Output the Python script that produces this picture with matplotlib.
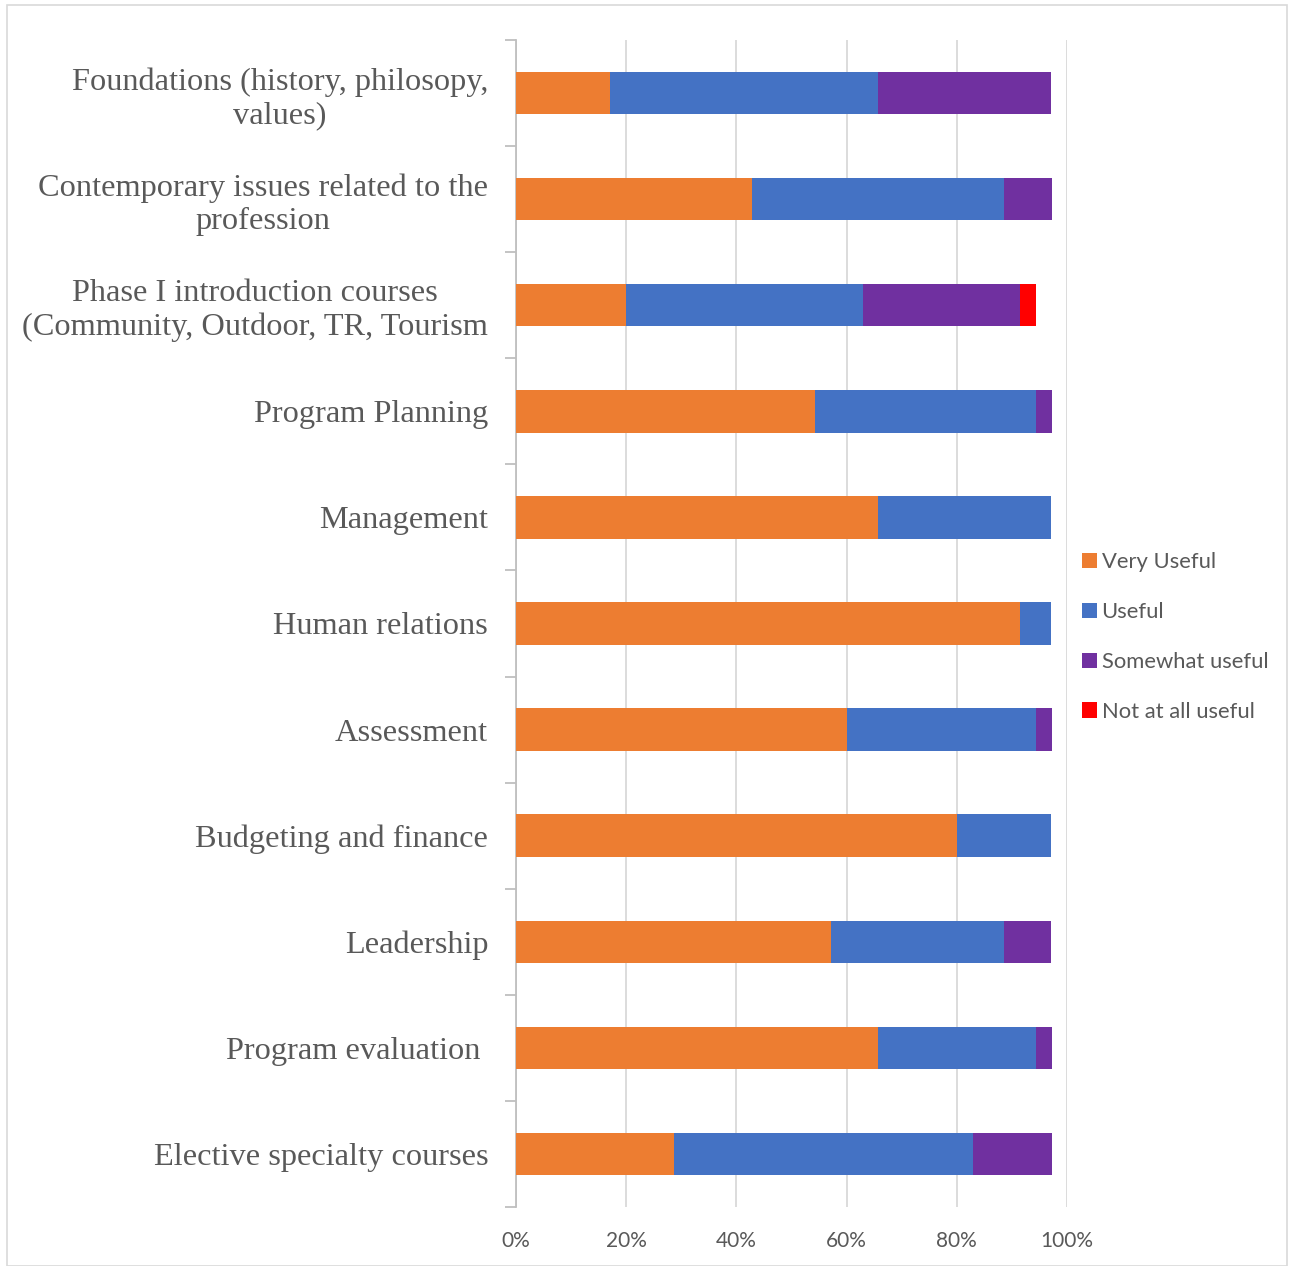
import matplotlib
matplotlib.use("Agg")
import matplotlib.pyplot as plt
from matplotlib.patches import Rectangle
import numpy as np

# categories, top to bottom
cursos = [
    "Foundations (history, philosopy,\nvalues)",
    "Contemporary issues related to the\nprofession",
    "Phase I introduction courses\n(Community, Outdoor, TR, Tourism",
    "Program Planning",
    "Management",
    "Human relations",
    "Assessment",
    "Budgeting and finance",
    "Leadership",
    "Program evaluation ",
    "Elective specialty courses",
]

# percent of respondents
muy_util = [17.1, 42.9, 20.0, 54.3, 65.7, 91.4, 60.0, 80.0, 57.1, 65.7, 28.6]
util = [48.6, 45.7, 42.9, 40.0, 31.4, 5.7, 34.3, 17.1, 31.4, 28.6, 54.3]
algo_util = [31.4, 8.6, 28.6, 2.9, 0.0, 0.0, 2.9, 0.0, 8.6, 2.9, 14.3]
nada_util = [0.0, 0.0, 2.9, 0.0, 0.0, 0.0, 0.0, 0.0, 0.0, 0.0, 0.0]

series = ["Very Useful", "Useful", "Somewhat useful", "Not at all useful"]
colores = ["#ED7D31", "#4472C4", "#7030A0", "#FF0000"]
ticks_x = ["0%", "20%", "40%", "60%", "80%", "100%"]

W, H = 1289, 1266
fig = plt.figure(figsize=(W / 100, H / 100), dpi=100)
fig.patches.append(Rectangle((7 / W, 0), 1280 / W, 1 - 5 / H, transform=fig.transFigure,
                             fill=False, edgecolor="#d9d9d9", linewidth=1.2))

ax = fig.add_axes([516 / W, 1 - 1207 / H, (1067 - 516) / W, (1207 - 40) / H])

y = np.arange(len(cursos))
izq = np.zeros(len(cursos))
for nombre, vals, col in zip(series, [muy_util, util, algo_util, nada_util], colores):
    vals = np.array(vals)
    ax.barh(y, vals, left=izq, height=0.4, color=col, label=nombre, zorder=3)
    izq = izq + vals

ax.set_xlim(0, 100)
ax.set_ylim(len(cursos) - 0.5, -0.5)
ax.set_xticks(np.arange(0, 101, 20))
ax.set_xticklabels(ticks_x, family="Lato", fontsize=15, color="#595959")
ax.tick_params(axis="x", length=0, pad=17)
ax.grid(axis="x", color="#d9d9d9", linewidth=1.3, zorder=0)

ax.set_yticks(y)
ax.set_yticklabels(cursos, family="Liberation Serif", fontsize=23.3, color="#595959",
                   multialignment="center", linespacing=1.2)
ax.tick_params(axis="y", length=0, pad=20)
# tick marks between categories on the y axis
ax.set_yticks(np.arange(-0.5, len(cursos)), minor=True)
ax.tick_params(axis="y", which="minor", length=8, color="#bfbfbf", width=1.3)

for lado in ["top", "right", "bottom"]:
    ax.spines[lado].set_visible(False)
ax.spines["left"].set_color("#bfbfbf")
ax.spines["left"].set_linewidth(1.3)

leg = fig.legend(loc="center left", bbox_to_anchor=(1062 / W, 1 - 637 / H), frameon=False,
                 prop={"family": "Lato", "size": 15.8}, handlelength=0.7, handleheight=0.7,
                 labelspacing=1.36, handletextpad=0.2)
for t in leg.get_texts():
    t.set_color("#595959")

fig.savefig("out.png", dpi=100)
